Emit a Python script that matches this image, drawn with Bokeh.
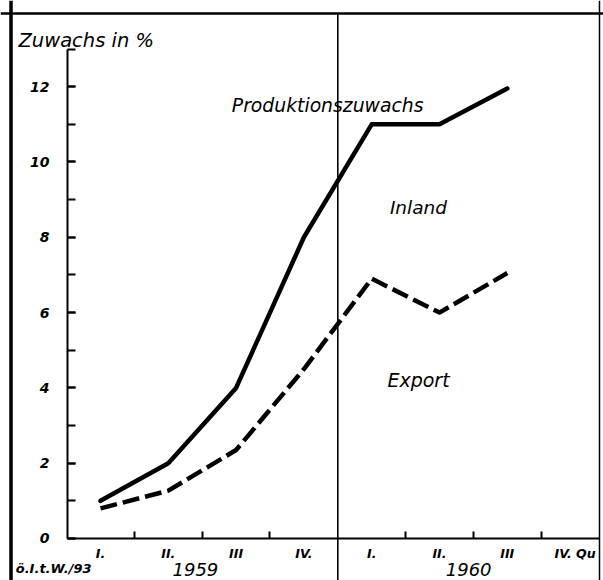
from bokeh.plotting import figure
from bokeh.models import LinearAxis, FixedTicker, SingleIntervalTicker, Span, Label, Range1d
from bokeh.embed import file_html
from bokeh.resources import INLINE

# ---- data ----
quarters = ["I.", "II.", "III", "IV.", "I.", "II.", "III", "IV. Qu"]
years = ["1959", "1960"]
year_label_pos = [1.4, 5.43]
production = [1.0, 2.0, 4.0, 8.0, 11.0, 11.0, 11.95]   # Produktionszuwachs (gesamt)
export = [0.8, 1.27, 2.35, 4.5, 6.9, 6.0, 7.05]         # Exportanteil
y_ticks_max = 13

xs = list(range(len(production)))
quarter_pos = list(range(len(quarters)))
boundaries = [i + 0.5 for i in range(len(quarters) - 1)]
year_boundary = 3.5

FONT = "DejaVu Sans"

X0, X1 = -1.475, 7.419
Y0, Y1 = -1.116, 14.289
YAXIS_X = -0.487
LEFT_BORDER = -1.32
RIGHT_BORDER = 7.36
TOP_BORDER = 13.944

p = figure(width=603, height=580, output_backend="svg", toolbar_location=None,
           x_range=Range1d(X0, X1), y_range=Range1d(Y0, Y1),
           x_axis_type=None, y_axis_type=None)
p.min_border_left = 0
p.min_border_right = 0
p.min_border_top = 0
p.min_border_bottom = 0
p.outline_line_color = None
p.background_fill_color = "white"
p.border_fill_color = "white"

# y axis
yax = LinearAxis(fixed_location=YAXIS_X, bounds=(0, y_ticks_max),
                 ticker=SingleIntervalTicker(interval=2, num_minor_ticks=2))
yax.axis_line_width = 2
yax.major_tick_in = 8
yax.major_tick_out = 0
yax.minor_tick_in = 8
yax.minor_tick_out = 0
yax.major_tick_line_width = 2
yax.minor_tick_line_width = 2
yax.major_label_standoff = 18
yax.major_label_text_font = FONT
yax.major_label_text_font_style = "bold italic"
yax.major_label_text_font_size = "14px"
yax.major_label_text_color = "black"
p.add_layout(yax, "left")

# x axis (quarters)
xax = LinearAxis(fixed_location=0, bounds=(YAXIS_X, RIGHT_BORDER),
                 ticker=FixedTicker(ticks=quarter_pos,
                                    minor_ticks=[b for b in boundaries if b != year_boundary]))
xax.major_label_overrides = {i: q for i, q in zip(quarter_pos, quarters)}
xax.axis_line_width = 2
xax.major_tick_in = 0
xax.major_tick_out = 0
xax.minor_tick_in = 7
xax.minor_tick_out = 0
xax.minor_tick_line_width = 2
xax.major_label_standoff = 8
xax.major_label_text_font = FONT
xax.major_label_text_font_style = "bold italic"
xax.major_label_text_font_size = "12.5px"
xax.major_label_text_color = "black"
p.add_layout(xax, "below")

# year axis
yrax = LinearAxis(fixed_location=0, ticker=FixedTicker(ticks=year_label_pos, minor_ticks=[]))
yrax.major_label_overrides = {pos: y for pos, y in zip(year_label_pos, years)}
yrax.axis_line_color = None
yrax.major_tick_line_color = None
yrax.minor_tick_line_color = None
yrax.major_label_standoff = 19
yrax.major_label_text_font = FONT
yrax.major_label_text_font_style = "italic"
yrax.major_label_text_font_size = "18px"
yrax.major_label_text_color = "black"
p.add_layout(yrax, "below")

# frame
p.add_layout(Span(location=LEFT_BORDER, dimension="height", line_color="black", line_width=3.5))
p.add_layout(Span(location=RIGHT_BORDER, dimension="height", line_color="black", line_width=1.5))
p.add_layout(Span(location=TOP_BORDER, dimension="width", line_color="black", line_width=2.5))
p.segment(x0=[year_boundary], y0=[Y0], x1=[year_boundary], y1=[TOP_BORDER],
          line_color="black", line_width=1.6)

# data lines
p.line(xs, production, line_color="black", line_width=4.5, line_join="round", line_cap="round")
p.line(xs, export, line_color="black", line_width=4.5, line_dash="17 6", line_join="round")

# texts
def lab(x, y, t, size, style="italic", align="center"):
    p.add_layout(Label(x=x, y=y, text=t, text_font=FONT, text_font_style=style,
                       text_color="black", text_font_size=size,
                       text_align=align, text_baseline="middle"))

lab(-1.21, 13.22, "Zuwachs in %", "19.5px", align="left")
lab(3.35, 11.5, "Produktionszuwachs", "18.8px")
lab(4.69, 8.79, "Inland", "18.5px")
lab(4.69, 4.22, "Export", "19px")
lab(-1.25, -0.80, "ö.I.t.W./93", "13px", style="bold italic", align="left")

open("out.html", "w").write(file_html(p, INLINE))
